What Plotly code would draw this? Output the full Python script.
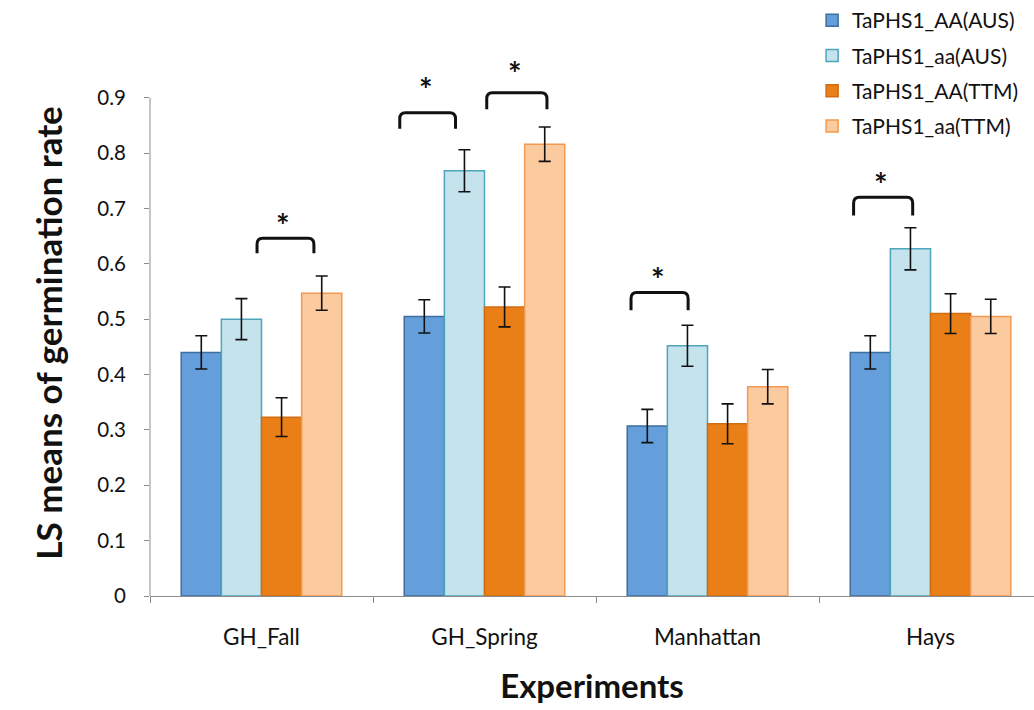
import plotly.graph_objects as go

# Experiments (x categories)
experiments = ["GH_Fall", "GH_Spring", "Manhattan", "Hays"]

# LS means of germination rate per genotype / background
aa_upper_aus = [0.440, 0.505, 0.307, 0.440]   # TaPHS1_AA(AUS)
aa_lower_aus = [0.500, 0.768, 0.452, 0.627]   # TaPHS1_aa(AUS)
aa_upper_ttm = [0.323, 0.522, 0.311, 0.510]   # TaPHS1_AA(TTM)
aa_lower_ttm = [0.547, 0.816, 0.378, 0.505]   # TaPHS1_aa(TTM)

# standard errors
err_aa_upper_aus = [0.030, 0.030, 0.030, 0.030]
err_aa_lower_aus = [0.037, 0.038, 0.037, 0.038]
err_aa_upper_ttm = [0.035, 0.036, 0.036, 0.036]
err_aa_lower_ttm = [0.031, 0.031, 0.031, 0.031]

series_names = ["TaPHS1_AA(AUS)", "TaPHS1_aa(AUS)", "TaPHS1_AA(TTM)", "TaPHS1_aa(TTM)"]
series_values = [aa_upper_aus, aa_lower_aus, aa_upper_ttm, aa_lower_ttm]
series_errors = [err_aa_upper_aus, err_aa_lower_aus, err_aa_upper_ttm, err_aa_lower_ttm]

y_ticks = [0, 0.1, 0.2, 0.3, 0.4, 0.5, 0.6, 0.7, 0.8, 0.9]
y_tick_text = ["0", "0.1", "0.2", "0.3", "0.4", "0.5", "0.6", "0.7", "0.8", "0.9"]

fill_colors = ["#659FDB", "#C5E3EC", "#EA7F18", "#FBCA9E"]
edge_colors = ["#3E6E9E", "#4FA5BC", "#D06C12", "#F29A52"]

# significance brackets: (category index, left offset, right offset, top y, end y, star y)
brackets = [
    (0, -0.02, 0.235, 0.646, 0.619, 0.671),
    (1, -0.38, -0.13, 0.873, 0.844, 0.916),
    (1, 0.01, 0.28, 0.909, 0.879, 0.945),
    (2, -0.343, -0.087, 0.548, 0.516, 0.574),
    (3, -0.345, -0.08, 0.720, 0.687, 0.745),
]

FONT = "Lato"

fig = go.Figure()
for i, (name, vals, errs) in enumerate(zip(series_names, series_values, series_errors)):
    fig.add_trace(go.Bar(
        name=name,
        x=experiments,
        y=vals,
        legendgroup=name,
        marker=dict(color=fill_colors[i], line=dict(color=edge_colors[i], width=1.5)),
        error_y=dict(type="data", array=errs, visible=True, color="#111111", thickness=1.6, width=6),
    ))

shapes = [
    # vertical axis line from 0 to 0.9
    dict(type="line", xref="paper", yref="y", x0=0, x1=0, y0=-0.01, y1=0.9,
         line=dict(color="#8c8c8c", width=1)),
]
annotations = []
for ci, xl, xr, yt, ye, ys in brackets:
    x0 = ci + xl
    x1 = ci + xr
    rx, ry = 0.025, 0.011
    path = (f"M {x0},{ye} L {x0},{yt - ry} Q {x0},{yt} {x0 + rx},{yt} "
            f"L {x1 - rx},{yt} Q {x1},{yt} {x1},{yt - ry} L {x1},{ye}")
    shapes.append(dict(type="path", xref="x", yref="y", path=path,
                       line=dict(color="#111111", width=3)))
    annotations.append(dict(x=(x0 + x1) / 2, y=ys, xref="x", yref="y", text="<b>*</b>",
                            showarrow=False, font=dict(family=FONT, size=32, color="#111111"),
                            yanchor="middle", xshift=-2, yshift=-1))

fig.update_layout(
    width=1034, height=710,
    margin=dict(l=150, r=0, t=69, b=114),
    paper_bgcolor="white", plot_bgcolor="white",
    barmode="group", bargap=0.28, bargroupgap=0,
    font=dict(family=FONT, color="#111111"),
    showlegend=True,
    legend=dict(x=0.749, y=1.134, xanchor="left", yanchor="top",
                font=dict(family=FONT, size=21, color="#111111"),
                tracegroupgap=5, bgcolor="rgba(0,0,0,0)"),
    shapes=shapes,
    annotations=annotations,
)

fig.update_xaxes(
    type="category", range=[-0.5, 3.464],
    showline=True, linecolor="#8c8c8c", linewidth=1,
    ticks="outside", tickson="boundaries", ticklen=6, tickcolor="#8c8c8c",
    tickfont=dict(family=FONT, size=22.5, color="#111111"),
    ticklabelstandoff=21,
    showgrid=False, zeroline=False,
    title=dict(text="<b>Experiments</b>", font=dict(family=FONT, size=33, color="#111111"), standoff=25),
)
fig.update_yaxes(
    range=[0, 0.95],
    tickvals=y_ticks, ticktext=y_tick_text,
    showline=False,
    ticks="outside", ticklen=5, tickcolor="#8c8c8c",
    tickfont=dict(family=FONT, size=20.5, color="#111111"),
    ticklabelstandoff=14,
    showgrid=False, zeroline=False,
    title=dict(text="<b>LS means of germination rate</b>", font=dict(family=FONT, size=35, color="#111111"), standoff=24),
)

fig.write_html("out.html")
